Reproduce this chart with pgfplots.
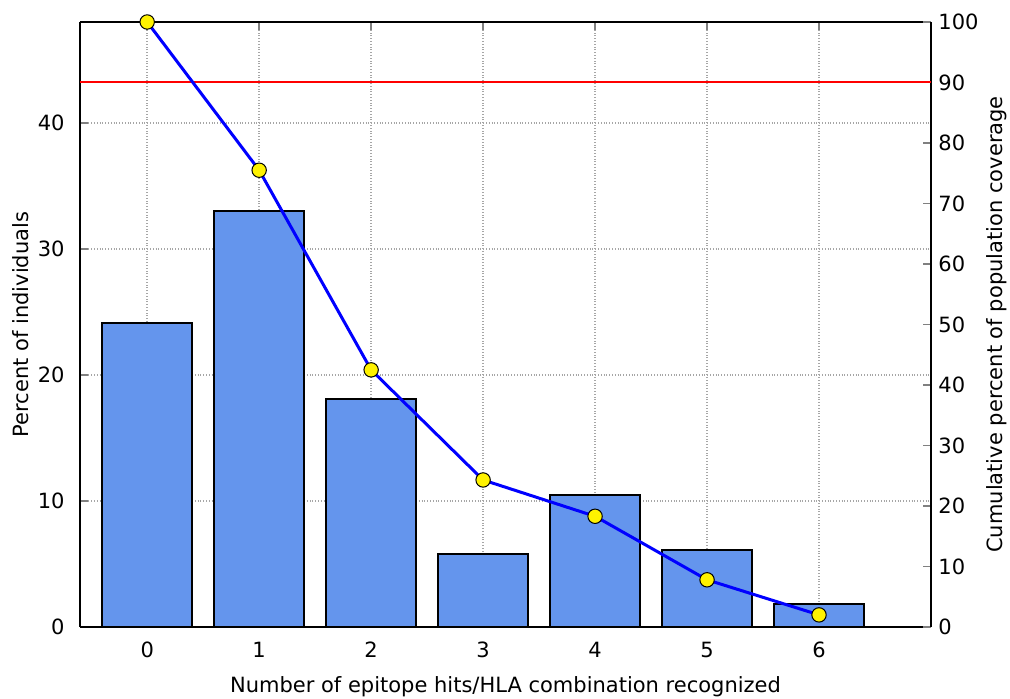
\documentclass[border=0pt]{standalone}
\usepackage{fontspec}
\setmainfont{DejaVu Sans}
\usepackage{pgfplots}
\pgfplotsset{compat=1.18}
\usetikzlibrary{calc}
\definecolor{barblue}{RGB}{100,149,237}
\begin{document}
\fontsize{10.5}{12}\selectfont
\begin{tikzpicture}
\pgfplotsset{
  every axis/.append style={
    scale only axis, width=425.5pt, height=302.5pt,
    xmin=-0.6, xmax=7.0,
    tick align=inside,
    /pgf/number format/assume math mode=true,
    tick label style={font=\fontsize{10.5}{12}\selectfont},
    label style={font=\fontsize{10.5}{12}\selectfont},
    axis line style={black, line width=1.1pt},
    major tick style={line width=0.8pt},
    major tick length=4pt,
    xticklabel style={yshift=-4pt},
    yticklabel style={xshift=-4pt},
  }
}
\begin{axis}[
  name=ax1,
  ymin=0, ymax=48,
  axis y line*=left,
  xtick={0,1,2,3,4,5,6},
  ytick={0,10,20,30,40},
  xtick pos=both,
  grid=major,
  grid style={densely dotted, gray!70, line width=0.7pt},
  xlabel={Number of epitope hits/HLA combination recognized},
  ylabel={Percent of individuals},
  ylabel style={yshift=-2.5pt},
  xlabel style={yshift=-2pt},
]
\addplot[ybar, bar width=0.8, fill=barblue, draw=black, line width=0.9pt] coordinates {
  (0,24.1) (1,33.0) (2,18.1) (3,5.8) (4,10.5) (5,6.1) (6,1.8)
};
\end{axis}
\begin{axis}[
  ymin=0, ymax=100,
  axis y line*=right,
  axis x line=none,
  ytick={0,10,...,100},
  yticklabel style={xshift=4pt},
  ylabel={Cumulative percent of population coverage},
  ylabel style={yshift=3pt},
  clip=false,
]
\addplot[red, line width=1pt, forget plot] coordinates {(-0.6,90) (7.0,90)};
\addplot[blue, line width=1.5pt, mark=*, mark size=3.6pt,
  mark options={fill=yellow, draw=black, line width=0.5pt}] coordinates {
  (0,100) (1,75.5) (2,42.5) (3,24.3) (4,18.3) (5,7.8) (6,2.0)
};
\end{axis}
\pgfresetboundingbox
\path ($(ax1.south west)+(-40pt,-36pt)$) rectangle ($(ax1.north east)+(39.5pt,11pt)$);
\end{tikzpicture}
\end{document}
